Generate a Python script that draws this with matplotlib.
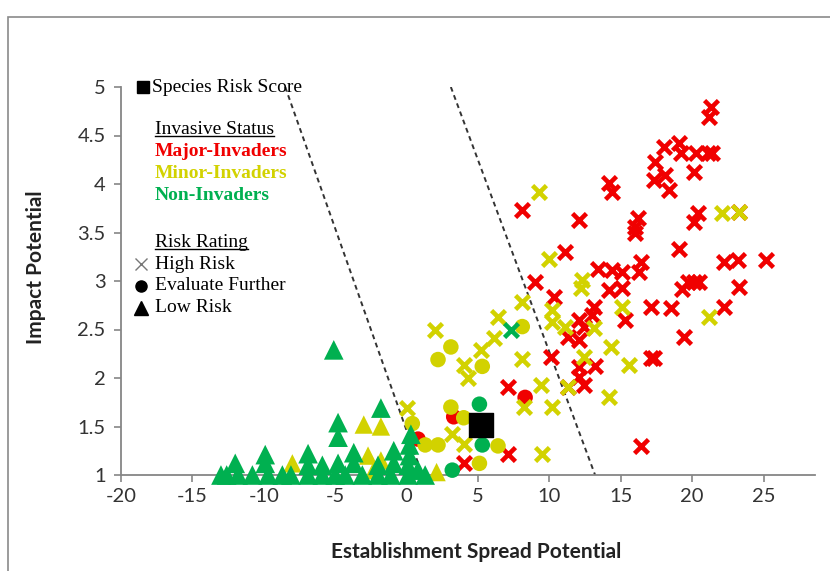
import matplotlib
matplotlib.use("Agg")
import matplotlib.pyplot as plt
from matplotlib.lines import Line2D
from matplotlib.patches import Rectangle

# Species risk plot: establishment/spread potential vs impact potential
# colour = invasive status, marker = risk rating

plt.rcParams['axes.unicode_minus'] = False

RED = '#F00000'
YELLOW = '#D2D200'
GREEN = '#00B050'

# Major-invaders, high risk (red x)
major_high_x = [21.3, 21.2, 18.0, 19.1, 19.2, 20.3, 21.1, 21.4, 17.4, 18.1, 17.3, 20.1, 18.4,
                14.2, 14.4, 23.3, 20.4, 20.1, 12.1, 16.2, 16.0, 16.0, 19.1, 11.1, 13.4, 14.4,
                15.1, 16.4, 16.3, 22.2, 23.2, 25.2, 19.7, 20.1, 20.5, 23.3, 14.2, 15.1, 19.3,
                13.1, 17.1, 18.5, 22.2, 12.1, 13.0, 15.3, 12.4, 11.3, 12.1, 19.4, 17.1, 17.3,
                12.1, 13.2, 12.1, 12.4, 16.4, 8.1, 9.0, 10.3, 10.1, 7.1, 11.3, 7.1, 4.0]
major_high_y = [4.79, 4.69, 4.38, 4.42, 4.32, 4.32, 4.32, 4.32, 4.23, 4.09, 4.04, 4.12, 3.94,
                4.01, 3.92, 3.71, 3.70, 3.61, 3.63, 3.65, 3.56, 3.49, 3.33, 3.30, 3.12, 3.11,
                3.09, 3.20, 3.09, 3.20, 3.22, 3.22, 2.99, 2.99, 2.99, 2.94, 2.91, 2.93, 2.92,
                2.73, 2.73, 2.72, 2.73, 2.60, 2.65, 2.60, 2.53, 2.42, 2.39, 2.42, 2.21, 2.21,
                2.11, 2.12, 2.01, 1.93, 1.30, 3.73, 2.99, 2.84, 2.22, 1.91, 1.91, 1.22, 1.12]

# Major-invaders, evaluate further (red circles)
major_eval_x = [8.3, 3.3, 0.8]
major_eval_y = [1.80, 1.60, 1.37]

# Minor-invaders, high risk (yellow x)
minor_high_x = [9.3, 22.1, 23.3, 10.0, 12.3, 12.2, 15.1, 21.2, 11.1, 13.1, 14.3, 12.4, 15.6,
                11.3, 14.2, 8.1, 10.2, 6.4, 10.2, 2.0, 6.1, 5.2, 4.0, 4.3, 8.1, 9.4, 8.2,
                10.2, 0.0, 3.2, 4.0, 9.5]
minor_high_y = [3.92, 3.70, 3.71, 3.23, 3.01, 2.93, 2.73, 2.63, 2.53, 2.52, 2.32, 2.22, 2.13,
                1.91, 1.80, 2.78, 2.70, 2.63, 2.58, 2.49, 2.41, 2.29, 2.13, 2.00, 2.20, 1.93, 1.70,
                1.70, 1.69, 1.42, 1.32, 1.22]

# Minor-invaders, evaluate further (yellow circles)
minor_eval_x = [8.1, 3.1, 2.2, 5.3, 0.4, 3.1, 4.0, 6.4, 1.3, 2.2, 5.1]
minor_eval_y = [2.53, 2.32, 2.19, 2.12, 1.53, 1.70, 1.59, 1.30, 1.31, 1.31, 1.12]

# Minor-invaders, low risk (yellow triangles)
minor_low_x = [-3.0, -1.8, -8.0, -2.7, -2.3, -1.8, 2.1]
minor_low_y = [1.52, 1.50, 1.12, 1.20, 1.05, 1.15, 1.03]

# Non-invaders
non_high_x = [7.3]
non_high_y = [2.49]
non_eval_x = [5.1, 5.3, 3.2]
non_eval_y = [1.73, 1.31, 1.05]
non_low_x = [-5.1, -1.8, -4.8, -4.8, 0.3, 0.2, 0.2, 0.1,
             -13.0, -12.6, -11.8, -10.8, -9.7, -8.7, -8.1, -6.9, -5.9, -5.0, -4.3, -3.1,
             -2.0, -1.1, 0.1, 1.3,
             -12.0, -9.9, -6.9, -5.9, -4.8, -3.7, -2.0, -0.9, 0.8,
             -9.9, -6.9, -3.7, -0.9]
non_low_y = [2.29, 1.69, 1.54, 1.39, 1.42, 1.31, 1.20, 1.10,
             1.0, 1.0, 1.0, 1.0, 1.0, 1.0, 1.0, 1.0, 1.0, 1.0, 1.0, 1.0,
             1.0, 1.0, 1.0, 1.0,
             1.12, 1.12, 1.10, 1.10, 1.12, 1.12, 1.10, 1.12, 1.05,
             1.21, 1.22, 1.23, 1.25]

# species risk score
score_x = [5.2]
score_y = [1.52]

# dashed threshold lines (x at y=5, x at y=1)
line1_x = [-8.5, 1.1]
line2_x = [3.1, 13.2]
line_y = [5, 1]

x_ticks = [-20, -15, -10, -5, 0, 5, 10, 15, 20, 25]
y_ticks = [1, 1.5, 2, 2.5, 3, 3.5, 4, 4.5, 5]
y_tick_labels = ['1', '1.5', '2', '2.5', '3', '3.5', '4', '4.5', '5']

W, H = 830, 571
fig = plt.figure(figsize=(W / 100, H / 100), dpi=100)
ax = fig.add_axes([121 / W, 96 / H, 694 / W, 388 / H])

def px(x, y):
    return x / W, 1 - y / H

# outer chart border
fig.patches.append(Rectangle((8 / W, -0.05), 1.0, 1 - 17 / H + 0.05, transform=fig.transFigure,
                             fill=False, ec='#8a8a8a', lw=1.2))

ax.plot(line1_x, line_y, color='#333333', lw=1.4, ls=(0, (2.5, 2)), zorder=2)
ax.plot(line2_x, line_y, color='#333333', lw=1.4, ls=(0, (2.5, 2)), zorder=2)

kw = dict(clip_on=False, zorder=3)
ax.scatter(major_high_x, major_high_y, marker='x', s=100, linewidths=3.3, color=RED, **kw)
ax.scatter(major_eval_x, major_eval_y, marker='o', s=125, color=RED, edgecolors='none', **kw)
ax.scatter(minor_high_x, minor_high_y, marker='x', s=100, linewidths=3.3, color=YELLOW, **kw)
ax.scatter(minor_eval_x, minor_eval_y, marker='o', s=125, color=YELLOW, edgecolors='none', **kw)
ax.scatter(minor_low_x, minor_low_y, marker='^', s=175, color=YELLOW, edgecolors='none', **kw)
ax.scatter(non_high_x, non_high_y, marker='x', s=100, linewidths=3.3, color=GREEN, **kw)
ax.scatter(non_eval_x, non_eval_y, marker='o', s=125, color=GREEN, edgecolors='none', **kw)
ax.scatter(non_low_x, non_low_y, marker='^', s=200, color=GREEN, edgecolors='none', **kw)
ax.scatter(score_x, score_y, marker='s', s=300, color='black', **kw)

ax.set_xlim(-20, 28.6)
ax.set_ylim(1, 5)
ax.set_xticks(x_ticks)
ax.set_yticks(y_ticks)
ax.set_yticklabels(y_tick_labels)
for s in ['top', 'right']:
    ax.spines[s].set_visible(False)
for s in ['left', 'bottom']:
    ax.spines[s].set_color('#868686')
    ax.spines[s].set_linewidth(1.3)
ax.tick_params(axis='both', direction='out', length=5, width=1.2, color='#868686',
               labelsize=14.5, labelcolor='#333333')
ax.tick_params(axis='x', pad=4)
ax.tick_params(axis='y', pad=6)
for lab in ax.get_xticklabels() + ax.get_yticklabels():
    lab.set_family('Lato')

fig.text(*px(476, 552), 'Establishment Spread Potential', ha='center', va='center',
         family='Lato', weight='bold', fontsize=15, color='#222222')
fig.text(*px(36, 267), 'Impact Potential', ha='center', va='center', rotation=90,
         family='Lato', weight='bold', fontsize=15, color='#222222')

# legend, drawn by hand as in the original
serif = dict(family='Liberation Serif', fontsize=14, va='center')
fig.add_artist(Line2D([143 / W], [1 - 87 / H], marker='s', ms=9, color='black', ls=''))
fig.text(*px(152, 87), 'Species Risk Score', **serif)
t1 = fig.text(*px(155, 129), 'Invasive Status', **serif)
fig.text(*px(155, 152), 'Major-Invaders', color=RED, weight='bold', **serif)
fig.text(*px(155, 174), 'Minor-Invaders', color=YELLOW, weight='bold', **serif)
fig.text(*px(155, 195), 'Non-Invaders', color=GREEN, weight='bold', **serif)
t2 = fig.text(*px(155, 242), 'Risk Rating', **serif)
fig.add_artist(Line2D([141 / W], [1 - 264 / H], marker='x', ms=8, mew=1, color='#777777', ls=''))
fig.text(*px(155, 264), 'High Risk', **serif)
fig.add_artist(Line2D([141 / W], [1 - 286 / H], marker='o', ms=8, color='black', ls=''))
fig.text(*px(155, 286), 'Evaluate Further', **serif)
fig.add_artist(Line2D([141 / W], [1 - 308 / H], marker='^', ms=10, color='black', ls=''))
fig.text(*px(155, 308), 'Low Risk', **serif)

fig.canvas.draw()
r = fig.canvas.get_renderer()
inv = fig.transFigure.inverted()
for t in (t1, t2):
    bb = t.get_window_extent(r)
    (x0, y0), (x1, _) = inv.transform([(bb.x0, bb.y0 + 2), (bb.x1, bb.y1)])
    fig.add_artist(Line2D([x0, x1], [y0, y0], color='black', lw=1))

fig.savefig('out.png', dpi=100)
